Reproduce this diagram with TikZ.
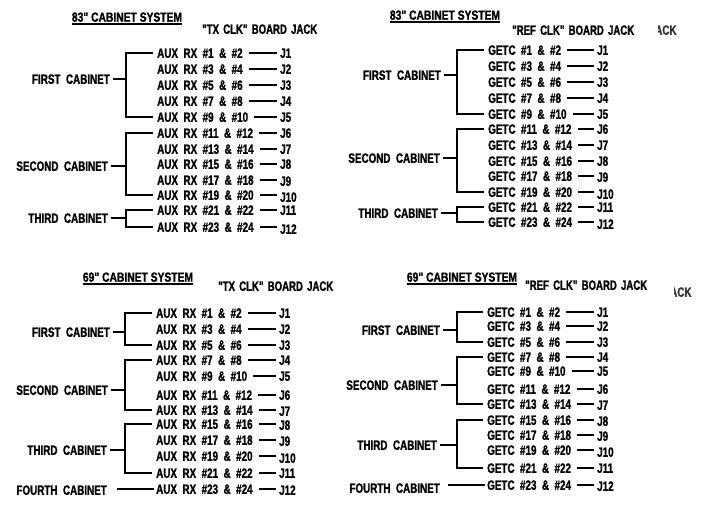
\documentclass[tikz,border=0pt]{standalone}
\usepackage{fontspec}
\newfontfamily\cf{Liberation Sans}[FakeStretch=0.73,WordSpace=2,BoldFeatures={FakeBold=1.2}]
\newfontfamily\tf{Liberation Sans}[FakeStretch=0.78,WordSpace=1,BoldFeatures={FakeBold=1.2}]
\newfontfamily\hf{Liberation Sans}[FakeStretch=0.71,WordSpace=1.6,BoldFeatures={FakeBold=1.2}]
\tikzset{
  txt/.style={font=\cf\bfseries\fontsize{13.5}{13.5}\selectfont, inner sep=0pt, text height=9.6pt, text depth=0pt},
  ttl/.style={font=\tf\bfseries\fontsize{13.2}{13.2}\selectfont, inner sep=0pt, text height=9.4pt, text depth=0pt},
  hdr/.style={font=\hf\bfseries\fontsize{13.5}{13.5}\selectfont, inner sep=0pt, text height=9.6pt, text depth=0pt},
  wire/.style={line width=1.6pt},
  uline/.style={line width=1.5pt},
  conn/.style={wire, shorten <=6pt, shorten >=3pt},
  brk/.style={wire, shorten <=4pt, shorten >=4pt},
  stub/.style={wire, shorten <=3pt},
}
\begin{document}
\begin{tikzpicture}[x=1pt,y=-1pt]
\useasboundingbox (0,0) rectangle (702,508);

% ================= TOP LEFT =================
\node[ttl] (tlt) at (127,17) {83" CABINET SYSTEM};
\draw[uline] ([yshift=-2pt]tlt.south west) -- ([yshift=-2pt]tlt.south east);
\node[hdr,anchor=west] (tlh) at (202,29) {"TX CLK" BOARD JACK};
\coordinate (tlb) at (126,0);
\foreach \n/\y/\t in {1/53/{AUX RX \#1 \& \#2},2/69/{AUX RX \#3 \& \#4},3/85/{AUX RX \#5 \& \#6},
  4/101/{AUX RX \#7 \& \#8},5/117/{AUX RX \#9 \& \#10},6/133/{AUX RX \#11 \& \#12},
  7/149/{AUX RX \#13 \& \#14},8/164/{AUX RX \#15 \& \#16},9/180/{AUX RX \#17 \& \#18},
  10/195/{AUX RX \#19 \& \#20},11/210/{AUX RX \#21 \& \#22},12/227/{AUX RX \#23 \& \#24}}
  \node[txt,anchor=west] (tla\n) at (157,\y) {\t};
\foreach \n/\y in {1/53,2/69,3/85,4/101,5/117,6/133,7/149,8/164,9/181,10/197,11/210,12/229}
  \node[txt,anchor=west] (tlj\n) at (280,\y) {J\n};
\foreach \n in {1,...,12}
  \draw[conn] (tla\n.east) -- (tla\n.east -| tlj\n.west);
\node[txt,anchor=east] (tlf1) at (110,79) {FIRST CABINET};
\node[txt,anchor=east] (tlf2) at (108,166) {SECOND CABINET};
\node[txt,anchor=east] (tlf3) at (108,218) {THIRD CABINET};
\draw[brk] (tla1.west) -- (tla1.west -| tlb) -- (tla5.west -| tlb) -- (tla5.west);
\draw[brk] (tla6.west) -- (tla6.west -| tlb) -- (tla10.west -| tlb) -- (tla10.west);
\draw[brk] (tla11.west) -- (tla11.west -| tlb) -- (tla12.west -| tlb) -- (tla12.west);
\foreach \n in {1,2,3} \draw[stub] (tlf\n.east) -- (tlf\n.east -| tlb);

% ================= TOP RIGHT =================
\node[ttl] (trt) at (445,15) {83" CABINET SYSTEM};
\draw[uline] ([yshift=-2pt]trt.south west) -- ([yshift=-2pt]trt.south east);
\node[hdr,anchor=west] (trh) at (512,30) {"REF CLK" BOARD JACK};
\begin{scope}
  \clip (658,15) rectangle (702,45);
  \node[txt,anchor=west,text=black!80] (trk) at (655,30) {ACK};
\end{scope}
\coordinate (trb) at (457,0);
\foreach \n/\y/\t in {1/50/{GETC \#1 \& \#2},2/66/{GETC \#3 \& \#4},3/82/{GETC \#5 \& \#6},
  4/98/{GETC \#7 \& \#8},5/114/{GETC \#9 \& \#10},6/129/{GETC \#11 \& \#12},
  7/145/{GETC \#13 \& \#14},8/161/{GETC \#15 \& \#16},9/176/{GETC \#17 \& \#18},
  10/192/{GETC \#19 \& \#20},11/207/{GETC \#21 \& \#22},12/222/{GETC \#23 \& \#24}}
  \node[txt,anchor=west] (tra\n) at (488,\y) {\t};
\foreach \n/\y in {1/50,2/66,3/82,4/98,5/114,6/129,7/145,8/161,9/177,10/194,11/207,12/224}
  \node[txt,anchor=west] (trj\n) at (597,\y) {J\n};
\foreach \n in {1,...,12}
  \draw[conn] (tra\n.east) -- (tra\n.east -| trj\n.west);
\node[txt,anchor=east] (trf1) at (441,75) {FIRST CABINET};
\node[txt,anchor=east] (trf2) at (440,158) {SECOND CABINET};
\node[txt,anchor=east] (trf3) at (438,213) {THIRD CABINET};
\draw[brk] (tra1.west) -- (tra1.west -| trb) -- (tra5.west -| trb) -- (tra5.west);
\draw[brk] (tra6.west) -- (tra6.west -| trb) -- (tra10.west -| trb) -- (tra10.west);
\draw[brk] (tra11.west) -- (tra11.west -| trb) -- (tra12.west -| trb) -- (tra12.west);
\foreach \n in {1,2,3} \draw[stub] (trf\n.east) -- (trf\n.east -| trb);

% ================= BOTTOM LEFT =================
\node[ttl] (blt) at (138,277) {69" CABINET SYSTEM};
\draw[uline] ([yshift=-2pt]blt.south west) -- ([yshift=-2pt]blt.south east);
\node[hdr,anchor=west] (blh) at (218,286) {"TX CLK" BOARD JACK};
\coordinate (blb) at (125,0);
\foreach \n/\y/\t in {1/313/{AUX RX \#1 \& \#2},2/329/{AUX RX \#3 \& \#4},3/345/{AUX RX \#5 \& \#6},
  4/360/{AUX RX \#7 \& \#8},5/376/{AUX RX \#9 \& \#10},6/395/{AUX RX \#11 \& \#12},
  7/410/{AUX RX \#13 \& \#14},8/424/{AUX RX \#15 \& \#16},9/440/{AUX RX \#17 \& \#18},
  10/456/{AUX RX \#19 \& \#20},11/473/{AUX RX \#21 \& \#22},12/489/{AUX RX \#23 \& \#24}}
  \node[txt,anchor=west] (bla\n) at (156,\y) {\t};
\foreach \n/\y in {1/313,2/329,3/345,4/360,5/376,6/395,7/411,8/425,9/441,10/458,11/473,12/490}
  \node[txt,anchor=west] (blj\n) at (279,\y) {J\n};
\foreach \n in {1,...,12}
  \draw[conn] (bla\n.east) -- (bla\n.east -| blj\n.west);
\node[txt,anchor=east] (blf1) at (110,332) {FIRST CABINET};
\node[txt,anchor=east] (blf2) at (108,390) {SECOND CABINET};
\node[txt,anchor=east] (blf3) at (107,450) {THIRD CABINET};
\node[txt,anchor=east] (blf4) at (107,490) {FOURTH CABINET};
\draw[brk] (bla1.west) -- (bla1.west -| blb) -- (bla3.west -| blb) -- (bla3.west);
\draw[brk] (bla4.west) -- (bla4.west -| blb) -- (bla7.west -| blb) -- (bla7.west);
\draw[brk] (bla8.west) -- (bla8.west -| blb) -- (bla11.west -| blb) -- (bla11.west);
\foreach \n in {1,2,3} \draw[stub] (blf\n.east) -- (blf\n.east -| blb);
\draw[wire, shorten <=10pt, shorten >=2pt] (bla12.west -| blf4.east) -- (bla12.west);

% ================= BOTTOM RIGHT =================
\node[ttl] (brt) at (462,277) {69" CABINET SYSTEM};
\draw[uline] ([yshift=-2pt]brt.south west) -- ([yshift=-2pt]brt.south east);
\node[hdr,anchor=west] (brh) at (525,285) {"REF CLK" BOARD JACK};
\begin{scope}
  \clip (674,277) rectangle (702,307);
  \node[txt,anchor=west,text=black!80] (brk) at (670,292) {ACK};
\end{scope}
\coordinate (brb) at (457,0);
\foreach \n/\y/\t in {1/312/{GETC \#1 \& \#2},2/326/{GETC \#3 \& \#4},3/342/{GETC \#5 \& \#6},
  4/357/{GETC \#7 \& \#8},5/371/{GETC \#9 \& \#10},6/389/{GETC \#11 \& \#12},
  7/404/{GETC \#13 \& \#14},8/420/{GETC \#15 \& \#16},9/435/{GETC \#17 \& \#18},
  10/450/{GETC \#19 \& \#20},11/468/{GETC \#21 \& \#22},12/485/{GETC \#23 \& \#24}}
  \node[txt,anchor=west] (bra\n) at (487,\y) {\t};
\foreach \n/\y in {1/312,2/326,3/342,4/357,5/371,6/389,7/405,8/421,9/436,10/452,11/468,12/486}
  \node[txt,anchor=west] (brj\n) at (597,\y) {J\n};
\foreach \n in {1,...,12}
  \draw[conn] (bra\n.east) -- (bra\n.east -| brj\n.west);
\node[txt,anchor=east] (brf1) at (440,330) {FIRST CABINET};
\node[txt,anchor=east] (brf2) at (438,385) {SECOND CABINET};
\node[txt,anchor=east] (brf3) at (437,445) {THIRD CABINET};
\node[txt,anchor=east] (brf4) at (440,488) {FOURTH CABINET};
\draw[brk] (bra1.west) -- (bra1.west -| brb) -- (bra3.west -| brb) -- (bra3.west);
\draw[brk] (bra4.west) -- (bra4.west -| brb) -- (bra7.west -| brb) -- (bra7.west);
\draw[brk] (bra8.west) -- (bra8.west -| brb) -- (bra11.west -| brb) -- (bra11.west);
\foreach \n in {1,2,3} \draw[stub] (brf\n.east) -- (brf\n.east -| brb);
\draw[wire, shorten <=8pt, shorten >=2pt] (bra12.west -| brf4.east) -- (bra12.west);
\end{tikzpicture}
\end{document}
